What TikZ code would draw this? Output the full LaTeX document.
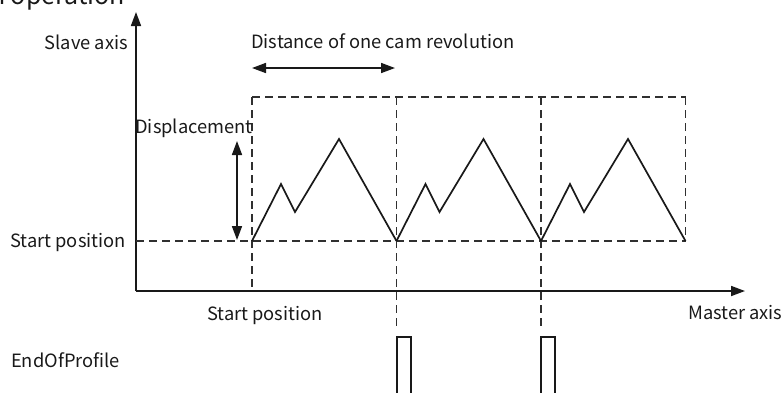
\documentclass[tikz,border=0pt]{standalone}
\usepackage{fontspec}
\setmainfont{Noto Sans CJK SC}
\usetikzlibrary{arrows.meta, positioning}
\definecolor{inkCam}{RGB}{25,25,25}
\tikzset{
  cam/axis/.style={-{Triangle[length=14pt,width=10pt]}, line width=1.7pt,
    draw=inkCam},
  cam/dim/.style={{Triangle[length=14pt,width=10pt]}-{Triangle[length=14pt,width=10pt]},
    line width=1.6pt, draw=inkCam},
  cam/grid/.style={dash pattern=on 8pt off 5pt, line width=1.6pt,
    draw=inkCam!90},
  cam/curve/.style={line width=1.7pt, draw=inkCam, line join=miter},
  cam/pulse/.style={line width=2pt, draw=inkCam},
  cam/lbl/.style={font=\fontsize{18.3}{22}\selectfont, text=inkCam,
    inner sep=0pt}
}

\begin{document}
\begin{tikzpicture}[x=1pt, y=-1pt]
  \useasboundingbox (0,0) rectangle (784,392);
  % axes
  \coordinate (o) at (136,291);
  \coordinate (ytip) at (136,12);
  \coordinate (xtip) at (745,291);
  \draw[cam/axis] (o) -- (ytip);
  \draw[cam/axis] (o) -- (xtip);

  % start points of each cam revolution and box tops
  \coordinate (s0) at (252,241);   \coordinate (t0) at (252,97);
  \coordinate (s1) at (396.5,241); \coordinate (t1) at (396.5,97);
  \coordinate (s2) at (541,241);   \coordinate (t2) at (541,97);
  \coordinate (s3) at (685.5,241); \coordinate (t3) at (685.5,97);
  \coordinate (ys) at (136,241);
  \coordinate (e1) at (396.5,328);
  \coordinate (e2) at (541,328);

  \draw[cam/grid] (ys) -- (s3);
  \draw[cam/grid] (t0) -- (t3);
  \draw[cam/grid] (t0) -- (t0 |- o);
  \draw[cam/grid] (t1) -- (e1);
  \draw[cam/grid] (t2) -- (e2);
  \draw[cam/grid] (t3) -- (s3);

  % cam profile
  \foreach \x in {252,396.5,541}
    \draw[cam/curve] (\x,241) -- ++(29,-57) -- ++(14,28) -- ++(44,-73)
      -- ++(57.5,102);

  % EndOfProfile pulses
  \foreach \x in {396.5,541}
    \draw[cam/pulse] (\x,400) |- (\x+14,337) -- (\x+14,400);

  % labels
  \node[cam/lbl, font=\fontsize{25}{30}\selectfont, anchor=base east]
    (title) at (125,4) {n operation};
  \node[cam/lbl, anchor=east] (slave) at (128,42) {Slave axis};
  \node[cam/lbl, anchor=west] (dist) at (251,41) {Distance of one cam revolution};
  \node[cam/lbl] (disp) at (194,128) {Displacement};
  \node[cam/lbl, anchor=east] (startl) at (126,242) {Start position};
  \node[cam/lbl] (startb) at (265,315) {Start position};
  \node[cam/lbl, anchor=west] (master) at (688,313) {Master axis};
  \node[cam/lbl, anchor=west] (eop) at (11,360) {EndOfProfile};

  % dimension arrows
  \coordinate (da) at (252,68);
  \coordinate (db) at (395,68);
  \coordinate (ha) at (237,141);
  \coordinate (hb) at (237,240);
  \draw[cam/dim] (da) -- (db);
  \draw[cam/dim] (ha) -- (hb);
\end{tikzpicture}
\end{document}
